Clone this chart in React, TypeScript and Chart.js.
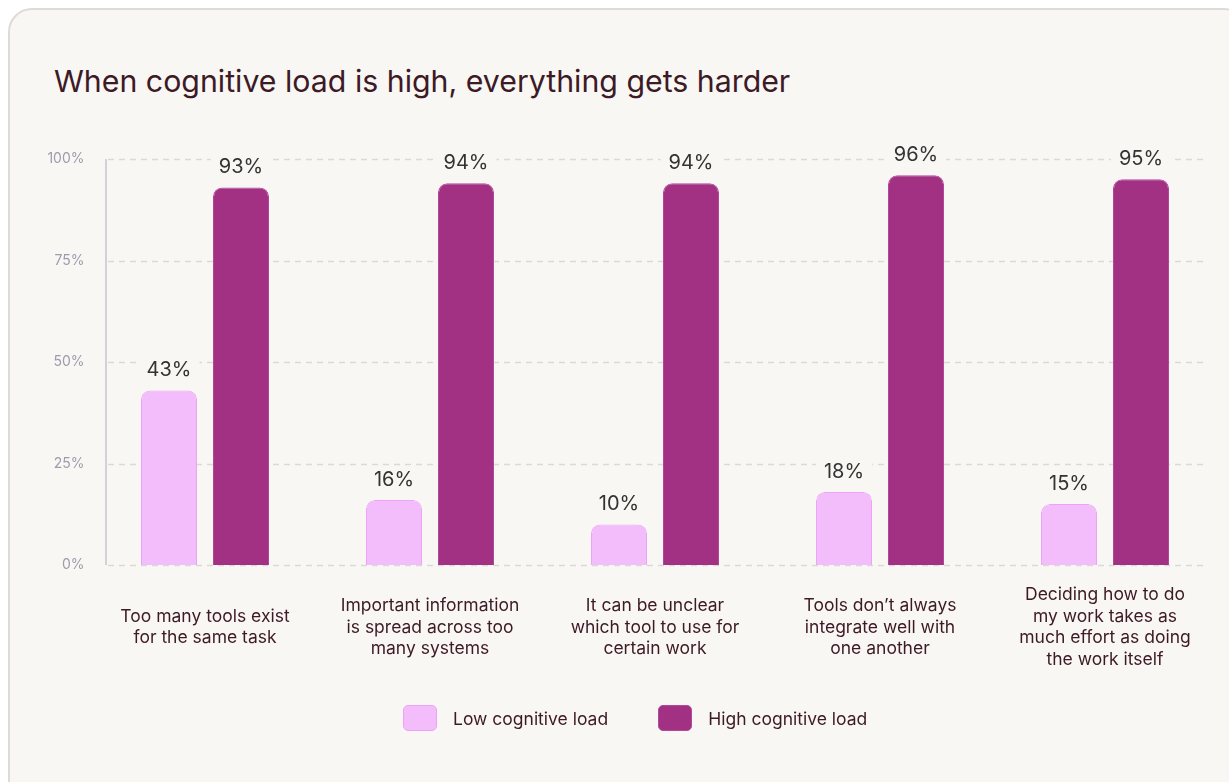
import React, { useEffect, useRef } from "react";
import { Chart, registerables } from "chart.js";

Chart.register(...registerables);

const TITLE = "When cognitive load is high, everything gets harder";
const categories: string[][] = [
  ["Too many tools exist", "for the same task"],
  ["Important information", "is spread across too", "many systems"],
  ["It can be unclear", "which tool to use for", "certain work"],
  ["Tools don’t always", "integrate well with", "one another"],
  ["Deciding how to do", "my work takes as", "much effort as doing", "the work itself"],
];
const seriesNames = ["Low cognitive load", "High cognitive load"];
const lowLoad = [43, 16, 10, 18, 15];
const highLoad = [93, 94, 94, 96, 95];
const yTicks = [0, 25, 50, 75, 100];

const FONT = "Inter, 'Noto Sans', sans-serif";
const CARD_BG = "#f9f7f4";
const TEXT_DARK = "#3d1a26";
const LOW_FILL = "#f3bcfb";
const LOW_BORDER = "#eda3f6";
const HIGH_FILL = "#a23183";
const HIGH_BORDER = "#b2489c";

const gridPlugin = {
  id: "customGrid",
  beforeDatasetsDraw(chart: any) {
    const { ctx, chartArea, scales } = chart;
    const y = scales.y;
    const left = chartArea.left + 13.5;
    const right = chartArea.right - 12.5;
    ctx.save();
    ctx.strokeStyle = "#dbd9d5";
    ctx.lineWidth = 1.5;
    ctx.setLineDash([6, 5]);
    yTicks.forEach((v) => {
      const py = Math.round(y.getPixelForValue(v)) + 0.5;
      ctx.beginPath();
      ctx.moveTo(left + 2, py);
      ctx.lineTo(right, py);
      ctx.stroke();
    });
    ctx.setLineDash([]);
    ctx.strokeStyle = "#c6c4cf";
    ctx.lineWidth = 1.5;
    ctx.beginPath();
    ctx.moveTo(left, y.getPixelForValue(100));
    ctx.lineTo(left, y.getPixelForValue(0));
    ctx.stroke();
    ctx.restore();
  },
};

const labelPlugin = {
  id: "valueLabels",
  afterDatasetsDraw(chart: any) {
    const { ctx } = chart;
    ctx.save();
    ctx.font = `400 20px ${FONT}`;
    ctx.textAlign = "center";
    ctx.textBaseline = "middle";
    chart.data.datasets.forEach((ds: any, di: number) => {
      const meta = chart.getDatasetMeta(di);
      meta.data.forEach((bar: any, i: number) => {
        const text = `${ds.data[i]}%`;
        const w = ctx.measureText(text).width;
        const cy = bar.y - 20;
        ctx.fillStyle = CARD_BG;
        ctx.fillRect(bar.x - w / 2 - 8, cy - 12, w + 16, 24);
        ctx.fillStyle = "#333333";
        ctx.fillText(text, bar.x, cy);
      });
    });
    ctx.restore();
  },
};

export default function App() {
  const canvasRef = useRef<HTMLCanvasElement | null>(null);

  useEffect(() => {
    if (!canvasRef.current) return;
    const chart = new Chart(canvasRef.current, {
      type: "bar",
      data: {
        labels: categories,
        datasets: [
          {
            label: seriesNames[0],
            data: lowLoad,
            backgroundColor: LOW_FILL,
            borderColor: LOW_BORDER,
            borderWidth: 1,
            borderSkipped: "bottom",
            borderRadius: { topLeft: 9, topRight: 9, bottomLeft: 0, bottomRight: 0 },
            barPercentage: 0.778,
            categoryPercentage: 0.64,
          },
          {
            label: seriesNames[1],
            data: highLoad,
            backgroundColor: HIGH_FILL,
            borderColor: HIGH_BORDER,
            borderWidth: 1,
            borderSkipped: "bottom",
            borderRadius: { topLeft: 9, topRight: 9, bottomLeft: 0, bottomRight: 0 },
            barPercentage: 0.778,
            categoryPercentage: 0.64,
          },
        ],
      },
      options: {
        responsive: false,
        animation: false,
        layout: { padding: { left: 0, right: 11.5, top: 159, bottom: 77 } },
        plugins: {
          legend: { display: false },
          tooltip: { enabled: false },
          title: { display: false },
        },
        scales: {
          x: {
            type: "category",
            offset: true,
            grid: { display: false, drawTicks: false },
            border: { display: false },
            ticks: {
              autoSkip: false,
              maxRotation: 0,
              minRotation: 0,
              crossAlign: "center",
              padding: 30,
              color: TEXT_DARK,
              font: { family: FONT, size: 17.5, lineHeight: 1.23 },
            },
            afterFit: (scale: any) => {
              scale.height = 140;
            },
          },
          y: {
            min: 0,
            max: 100,
            grid: { display: false, drawTicks: false },
            border: { display: false },
            ticks: {
              stepSize: 25,
              padding: 8,
              color: "#9d9bac",
              font: { family: FONT, size: 14 },
              callback: (v: any) => `${v}%`,
            },
            afterFit: (scale: any) => {
              scale.width = 92.5;
            },
          },
        },
      },
      plugins: [gridPlugin, labelPlugin],
    });
    return () => chart.destroy();
  }, []);

  const legendItem = (name: string, fill: string, border: string, ml: number) => (
    <div style={{ display: "flex", alignItems: "center", marginLeft: ml }}>
      <div
        style={{
          width: 34,
          height: 26,
          boxSizing: "border-box",
          background: fill,
          border: `1.5px solid ${border}`,
          borderRadius: 5,
        }}
      />
      <span style={{ marginLeft: 16, fontSize: 17.5, color: TEXT_DARK, fontFamily: FONT }}>{name}</span>
    </div>
  );

  return (
    <div style={{ position: "fixed", left: 0, top: 0, width: 1229, height: 782, background: "#ffffff", overflow: "hidden" }}>
      <div
        style={{
          position: "absolute",
          left: 8,
          top: 8,
          width: 1240,
          height: 800,
          boxSizing: "border-box",
          background: CARD_BG,
          border: "2px solid #dedbd6",
          borderRadius: 24,
        }}
      />
      <div
        style={{
          position: "absolute",
          left: 54,
          top: 63,
          fontFamily: FONT,
          fontSize: 30.3,
          lineHeight: "36px",
          color: TEXT_DARK,
          whiteSpace: "nowrap",
        }}
      >
        {TITLE}
      </div>
      <canvas
        ref={canvasRef}
        width={1229}
        height={782}
        style={{ position: "absolute", left: 0, top: 0, width: 1229, height: 782 }}
      />
      <div style={{ position: "absolute", left: 403, top: 705, height: 26, display: "flex", alignItems: "center" }}>
        {legendItem(seriesNames[0], LOW_FILL, LOW_BORDER, 0)}
        {legendItem(seriesNames[1], HIGH_FILL, HIGH_BORDER, 50)}
      </div>
    </div>
  );
}
